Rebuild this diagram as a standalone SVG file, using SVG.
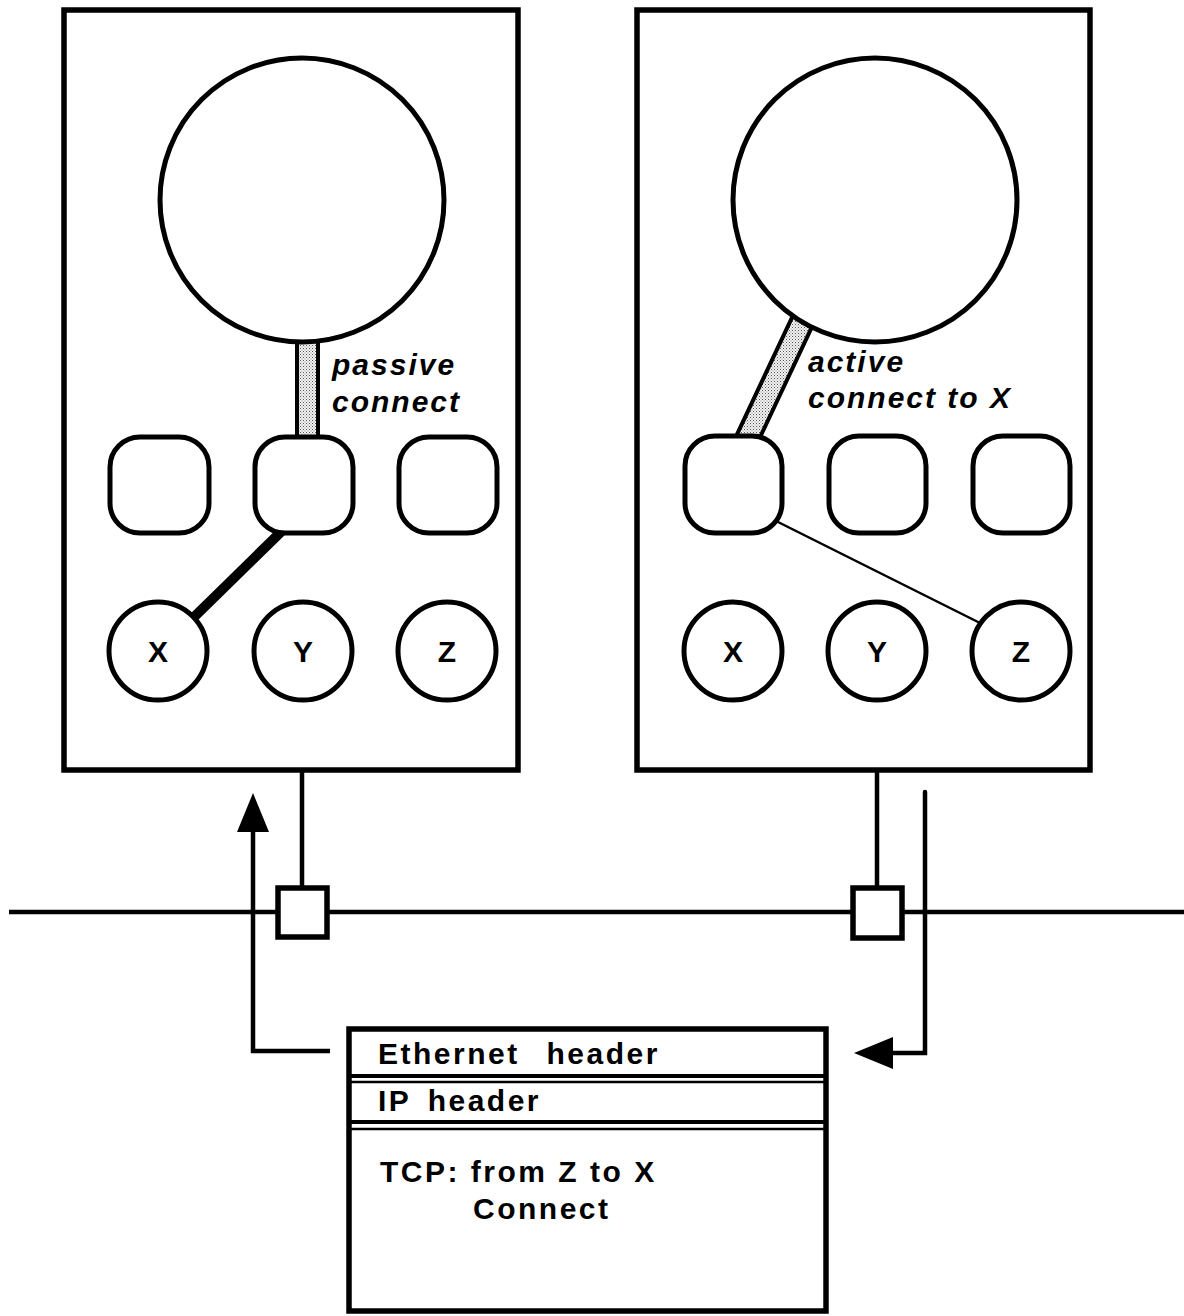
<svg xmlns="http://www.w3.org/2000/svg" width="1184" height="1316" viewBox="0 0 1184 1316">
<defs>
<pattern id="dots" width="3" height="3" patternUnits="userSpaceOnUse">
<rect width="3" height="3" fill="#f2f2f2"/>
<rect x="0" y="0" width="1" height="1" fill="#555"/>
<rect x="1.5" y="1.5" width="1" height="1" fill="#888"/>
</pattern>
<marker id="arrow" markerUnits="userSpaceOnUse" markerWidth="40" markerHeight="32" refX="0" refY="16" orient="auto">
<path d="M0,0 L39,16 L0,32 Z" fill="#000"/>
</marker>
<style>
.box{fill:#fff;stroke:#000;stroke-width:5.5}
.ring{fill:#fff;stroke:#000;stroke-width:5}
.sq{fill:#fff;stroke:#000;stroke-width:5}
.ln{fill:none;stroke:#000;stroke-width:4.5}
.lbl{font-family:"Liberation Sans",Arial,sans-serif;font-weight:bold;font-size:30px;text-anchor:middle}
.it{font-family:"Liberation Sans",Arial,sans-serif;font-weight:bold;font-style:italic;font-size:30px;letter-spacing:2px}
.pk{font-family:"Liberation Sans",Arial,sans-serif;font-weight:bold;font-size:30px;letter-spacing:2.5px}
.stripe{fill:url(#dots);stroke:#000;stroke-width:4}
</style>
</defs>
<rect width="1184" height="1316" fill="#fff"/>

<g id="host-left">
<rect class="box" x="64" y="10" width="454" height="760"/>
</g>
<g id="host-right">
<rect class="box" x="637" y="10" width="453" height="760"/>
</g>

<g id="connectors">
<path class="ln" d="M9,912 H1184"/>
<path class="ln" d="M302,770 V888"/>
<path class="ln" d="M877,770 V888"/>
<path class="ln" d="M330,1051 H253 V832" marker-end="url(#arrow)"/>
<path class="ln" d="M925,792 V1053 H893" stroke-linecap="round" marker-end="url(#arrow)"/>
<rect class="stripe" x="297" y="320" width="21" height="130"/>
<polygon class="stripe" points="802.4,295.3 822.4,304.7 749.5,459.7 729.5,450.3"/>
<path d="M190,621 L286,527" fill="none" stroke="#000" stroke-width="10"/>
<path d="M770,518 L990,628" fill="none" stroke="#000" stroke-width="2.5"/>
</g>

<g id="left-process"><circle class="ring" cx="302" cy="200" r="142"/></g>
<g id="right-process"><circle class="ring" cx="875" cy="200" r="142"/></g>

<g id="left-sockets">
<rect class="sq" x="110" y="437" width="99" height="96" rx="30"/>
<rect class="sq" x="255" y="437" width="98" height="96" rx="30"/>
<rect class="sq" x="399" y="437" width="98" height="96" rx="30"/>
</g>
<g id="right-sockets">
<rect class="sq" x="685" y="436" width="97" height="97" rx="30"/>
<rect class="sq" x="829" y="436" width="97" height="97" rx="30"/>
<rect class="sq" x="973" y="436" width="97" height="97" rx="30"/>
</g>

<g id="left-ports">
<circle class="ring" cx="158" cy="651" r="49"/>
<circle class="ring" cx="303" cy="651" r="49"/>
<circle class="ring" cx="447" cy="651" r="49"/>
<text class="lbl" x="158" y="662">X</text>
<text class="lbl" x="303" y="662">Y</text>
<text class="lbl" x="447" y="662">Z</text>
</g>
<g id="right-ports">
<circle class="ring" cx="733" cy="651" r="49"/>
<circle class="ring" cx="877" cy="651" r="49"/>
<circle class="ring" cx="1021" cy="651" r="49"/>
<text class="lbl" x="733" y="662">X</text>
<text class="lbl" x="877" y="662">Y</text>
<text class="lbl" x="1021" y="662">Z</text>
</g>

<g id="label-passive">
<text class="it" x="332" y="375">passive</text>
<text class="it" x="332" y="412">connect</text>
</g>
<g id="label-active">
<text class="it" x="808" y="372">active</text>
<text class="it" x="808" y="408">connect to X</text>
</g>

<g id="left-tap"><rect class="box" x="278" y="888" width="49" height="49" stroke-width="5"/></g>
<g id="right-tap"><rect class="box" x="853" y="888" width="49" height="50" stroke-width="5"/></g>

<g id="packet">
<rect class="box" x="349" y="1029" width="477" height="282"/>
<line x1="349" y1="1076" x2="826" y2="1076" stroke="#000" stroke-width="4"/>
<line x1="349" y1="1082" x2="826" y2="1082" stroke="#000" stroke-width="2.5"/>
<line x1="349" y1="1122" x2="826" y2="1122" stroke="#000" stroke-width="4"/>
<line x1="349" y1="1129" x2="826" y2="1129" stroke="#000" stroke-width="2.5"/>
<text class="pk" x="378" y="1064" word-spacing="16">Ethernet header</text>
<text class="pk" x="378" y="1111" word-spacing="6">IP header</text>
<text class="pk" x="380" y="1182">TCP: from Z to X</text>
<text class="pk" x="473" y="1219">Connect</text>
</g>
</svg>
